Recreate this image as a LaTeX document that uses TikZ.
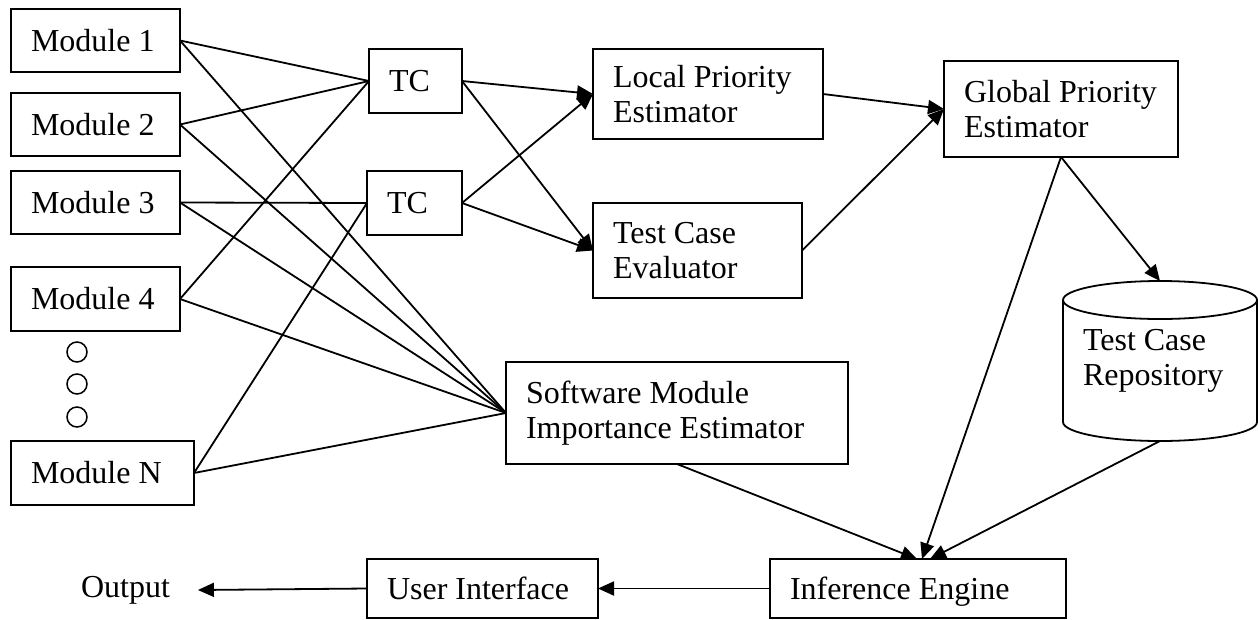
\documentclass[tikz,border=0pt]{standalone}
\usepackage{fontspec}
\setmainfont{Liberation Serif}
\usetikzlibrary{arrows.meta}
\begin{document}
\begin{tikzpicture}[x=1pt,y=-1pt,
  font=\fontsize{32}{35}\selectfont,
  line width=1.8pt,
  every node/.style={inner sep=0pt, outer sep=0pt},
  box/.style={draw, rectangle, inner xsep=20pt, inner ysep=0pt, align=flush left},
  arr/.style={-{Triangle[length=16pt,width=14pt]}},
  dot/.style={draw, circle, minimum size=20pt, line width=1.5pt}
  ]
\useasboundingbox (0,0) rectangle (1258,619);

% modules
\node[box, text width=129pt, minimum height=63pt] (m1) at (95.5,40.5) {Module 1};
\node[box, text width=129pt, minimum height=63pt] (m2) at (95.5,124.5) {Module 2};
\node[box, text width=129pt, minimum height=63pt] (m3) at (95.5,202.5) {Module 3};
\node[box, text width=129pt, minimum height=64pt] (m4) at (95.5,299) {Module 4};
\node[box, text width=143pt, minimum height=64pt] (mn) at (102.5,473) {Module N};
\node[dot] (d1) at (77,352) {};
\node[dot] (d2) at (77,384) {};
\node[dot] (d3) at (77,417) {};

% test cases
\node[box, text width=53pt, minimum height=64pt] (tc1) at (415.5,81) {TC};
\node[box, text width=55pt, minimum height=64pt] (tc2) at (414.5,203) {TC};

% estimators
\node[box, text width=190pt, minimum height=90pt] (lpe) at (708,94) {\mbox{Local Priority}\\Estimator};
\node[box, text width=169pt, minimum height=95pt] (tce) at (697.5,250.5) {Test Case\\Evaluator};
\node[box, text width=194pt, minimum height=96pt] (gpe) at (1061,109) {\mbox{Global Priority}\\Estimator};
\node[box, text width=302pt, minimum height=102pt] (smie) at (677,413) {Software Module\\\mbox{Importance Estimator}};

% repository (cylinder)
\node[text width=154pt, minimum width=194pt, minimum height=160pt, align=flush left] (repo) at (1160,361) {Test Case\\Repository};
\draw (1063,300) -- (1063,422) arc[start angle=180, end angle=360, x radius=97pt, y radius=19pt] -- (1257,300);
\draw (1160,300) ellipse [x radius=97pt, y radius=19pt];

% bottom row
\node[box, text width=256pt, minimum height=59pt, text depth=0pt] (ie) at (918,588.5) {Inference Engine};
\node[box, text width=191pt, minimum height=59pt] (ui) at (482.5,588.5) {User Interface};
\node[inner xsep=28pt] (out) at (125.5,590) {Output};

% module connections
\draw (m1.east) -- (tc1.west);
\draw (m2.east) -- (tc1.west);
\draw (m4.east) -- (tc1.west);
\draw (m3.east) -- (tc2.west);
\draw (mn.east) -- (tc2.west);
\draw (m1.east) -- (smie.west);
\draw (m2.east) -- (smie.west);
\draw (m3.east) -- (smie.west);
\draw (m4.east) -- (smie.west);
\draw (mn.east) -- (smie.west);

% arrows
\draw[arr] (tc1.east) -- (lpe.west);
\draw[arr] (tc1.east) -- (tce.west);
\draw[arr] (tc2.east) -- (lpe.west);
\draw[arr] (tc2.east) -- (tce.west);
\draw[arr] (lpe.east) -- (gpe.west);
\draw[arr] (tce.east) -- (gpe.west);
\draw[arr] (gpe.south) -- (repo.north);
\draw[arr] (gpe.south) -- ([xshift=4pt]ie.north);
\draw[arr] (repo.south) -- ([xshift=12pt]ie.north);
\draw[arr] (smie.south) -- ([xshift=-1pt]ie.north);
\draw[arr] (ie.west) -- (ui.east);
\draw[arr] (ui.west) -- (out.east);
\end{tikzpicture}
\end{document}
